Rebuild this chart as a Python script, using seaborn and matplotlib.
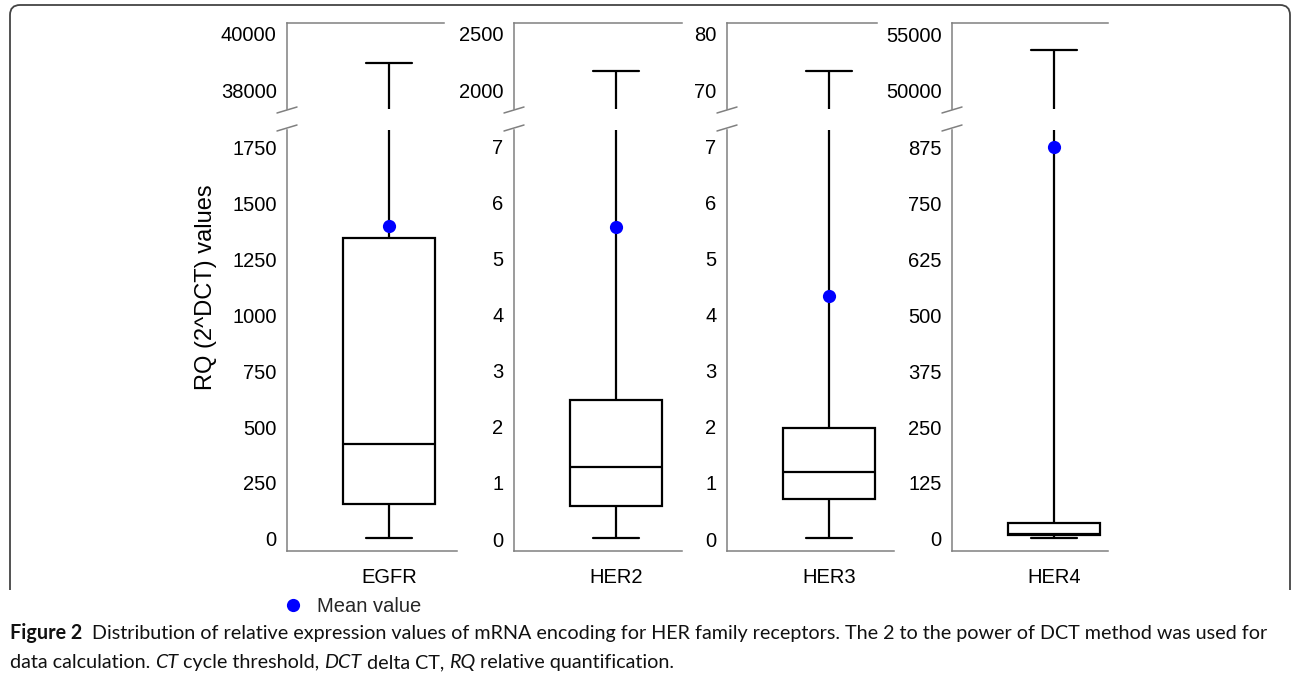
import numpy as np
import pandas as pd
import matplotlib
matplotlib.use("Agg")
import matplotlib.pyplot as plt
import seaborn as sns
from matplotlib.lines import Line2D
from matplotlib.path import Path
from matplotlib.patches import PathPatch

# ---------------- data ----------------
genes = ["EGFR", "HER2", "HER3", "HER4"]
whisker_low = [5, 0.02, 0.02, 2]
q1 = [156, 0.59, 0.71, 8]
median = [424, 1.29, 1.20, 11]
q3 = [1344, 2.48, 1.98, 36]
whisker_high = [38980, 2175, 73.5, 53600]
mean_value = [1397, 5.57, 4.34, 875]

lower_ticks = [
    [0, 250, 500, 750, 1000, 1250, 1500, 1750],
    [0, 1, 2, 3, 4, 5, 6, 7],
    [0, 1, 2, 3, 4, 5, 6, 7],
    [0, 125, 250, 375, 500, 625, 750, 875],
]
upper_ticks = [[38000, 40000], [2000, 2500], [70, 80], [50000, 55000]]

ylabel_text = "RQ (2^DCT) values"
legend_label = "Mean value"
caption_line1 = [("Figure 2", "bold", "normal"),
                 ("  Distribution of relative expression values of mRNA encoding for HER family receptors. "
                  "The 2 to the power of DCT method was used for", "normal", "normal")]
caption_line2 = [("data calculation. ", "normal", "normal"), ("CT", "normal", "italic"),
                 (" cycle threshold, ", "normal", "normal"), ("DCT", "normal", "italic"),
                 (" delta CT, ", "normal", "normal"), ("RQ", "normal", "italic"),
                 (" relative quantification.", "normal", "normal")]

# ---------------- layout (pixels) ----------------
W, H = 1292, 682
panel_left = [287, 514, 727, 952]
panel_center = [389, 616, 829, 1054]
lower_right = [457, 682, 894, 1108]
upper_right = [444, 682, 877, 1108]
UP_TOP, UP_BOT, LO_TOP, LO_BOT = 23, 109, 130, 551
S = 136.0  # px per category unit
lower_ylim = [(-53.6, 1826), (-0.214, 7.30), (-0.214, 7.30), (-26.8, 913)]
upper_ylim = [(37368, 40386), (1842, 2596.5), (66.84, 81.93), (48421, 55965)]

SPINE = "#808080"
TICK_FS = 14.5

sns.set_theme(style="white")
plt.rcParams["font.family"] = ["Liberation Sans", "DejaVu Sans"]

fig = plt.figure(figsize=(W / 100, H / 100), dpi=100)
fig.patch.set_facecolor("white")


def fx(x):
    return x / W


def fy(y):
    return 1 - y / H


for i, g in enumerate(genes):
    L, C = panel_left[i], panel_center[i]
    df = pd.DataFrame({"gene": [g] * 5,
                       "value": [whisker_low[i], q1[i], median[i], q3[i], whisker_high[i]]})

    ax_lo = fig.add_axes([fx(L), fy(LO_BOT), (lower_right[i] - L) / W, (LO_BOT - LO_TOP) / H])
    ax_up = fig.add_axes([fx(L), fy(UP_BOT), (upper_right[i] - L) / W, (UP_BOT - UP_TOP) / H])

    for ax in (ax_lo, ax_up):
        sns.boxplot(data=df, x="gene", y="value", ax=ax, whis=(0, 100), width=0.67,
                    color="white", linecolor="black", linewidth=1.6, fill=True)
        ax.set_xlabel("")
        ax.set_ylabel("")
        ax.set_facecolor("none")
        for sp in ax.spines.values():
            sp.set_color(SPINE)
            sp.set_linewidth(1.1)
        ax.tick_params(axis="both", which="both", direction="out", length=4.5, width=1.1,
                       color=SPINE, labelsize=TICK_FS, labelcolor="black", pad=3)

    sns.stripplot(x=[g], y=[mean_value[i]], ax=ax_lo, color="blue", size=9.5,
                  jitter=False, zorder=5, linewidth=0)

    ax_lo.set_xlim((L - C) / S, (lower_right[i] - C) / S)
    ax_up.set_xlim((L - C) / S, (upper_right[i] - C) / S)
    ax_lo.set_ylim(*lower_ylim[i])
    ax_up.set_ylim(*upper_ylim[i])
    ax_lo.set_yticks(lower_ticks[i])
    ax_lo.set_yticklabels([f"{t:g}" for t in lower_ticks[i]])
    ax_up.set_yticks(upper_ticks[i])
    ax_up.set_yticklabels([f"{t:g}" for t in upper_ticks[i]])
    ax_lo.tick_params(axis="x", pad=8)
    ax_lo.spines["top"].set_visible(False)
    ax_lo.spines["right"].set_visible(False)
    ax_up.spines["bottom"].set_visible(False)
    ax_up.spines["right"].set_visible(False)
    ax_up.tick_params(axis="x", bottom=False, labelbottom=False)
    if ax_lo.get_legend() is not None:
        ax_lo.get_legend().remove()

    # break marks on the left spine
    for yb in (UP_BOT + 1, LO_TOP - 2):
        fig.add_artist(Line2D([fx(L - 10), fx(L + 10)], [fy(yb + 3), fy(yb - 3)],
                              color=SPINE, lw=1.1, transform=fig.transFigure))

# y label
fig.text(fx(206), fy(287), ylabel_text, rotation=90, ha="center", va="center",
         fontsize=17, color="black")

# legend
fig.legend(handles=[Line2D([], [], marker="o", color="blue", ls="", markersize=9.5, markeredgewidth=0)],
           labels=[legend_label], loc="center left", bbox_to_anchor=(fx(283), fy(607)),
           frameon=False, handletextpad=0.7, handlelength=1.0, fontsize=TICK_FS,
           borderpad=0, borderaxespad=0)

# caption
renderer = fig.canvas.get_renderer()
CAP_FAMILY = ["Lato", "DejaVu Sans"]


def draw_line(pieces, x0, ybase, size):
    x = x0
    arts = []
    for s, w, st in pieces:
        t = fig.text(fx(x), fy(ybase), s, fontsize=size, fontweight=w, fontstyle=st,
                     family=CAP_FAMILY, ha="left", va="baseline", color="#111111")
        bb = t.get_window_extent(renderer)
        x = x + bb.width
        arts.append(t)
    return arts, x - x0


tmp, wdt = draw_line(caption_line1, 10, 639, 12)
for t in tmp:
    t.remove()
cap_size = 12 * (1262 - 10) / wdt
draw_line(caption_line1, 10, 639, cap_size)
draw_line(caption_line2, 10, 668, cap_size)

# rounded frame (top part), left side ends above the caption
r = 10
x0, x1, y0 = 10, 1290, 5
verts = [(x0, 590), (x0, y0 + r), (x0, y0), (x0 + r, y0), (x1 - r, y0), (x1, y0), (x1, y0 + r),
         (x1, 590)]
codes = [Path.MOVETO, Path.LINETO, Path.CURVE3, Path.CURVE3, Path.LINETO, Path.CURVE3, Path.CURVE3,
         Path.LINETO]
verts_in = [(vx / 100, (H - vy) / 100) for vx, vy in verts]
fig.add_artist(PathPatch(Path(verts_in, codes), facecolor="none", edgecolor="#444444", lw=1.3,
                         transform=fig.dpi_scale_trans))

fig.savefig("out.png", dpi=100, facecolor="white")
